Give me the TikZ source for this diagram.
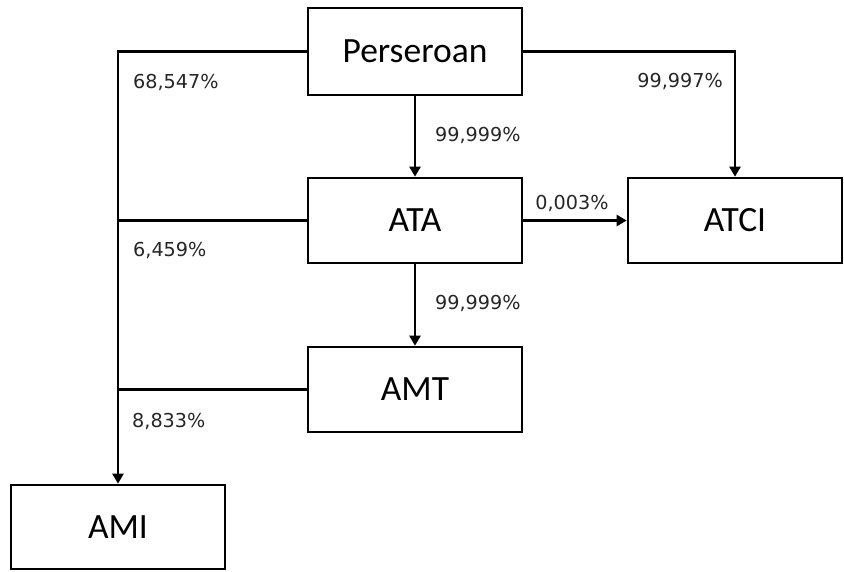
\documentclass[tikz,border=0pt]{standalone}
\usepackage{fontspec}
\setmainfont{Carlito}
\newfontfamily\pctfont{DejaVu Sans}
\usetikzlibrary{arrows.meta}

\begin{document}
\begin{tikzpicture}[x=1pt,y=-1pt,
    company/.style={draw,line width=2.6pt,minimum width=214pt,minimum height=85pt,
      inner sep=0pt,font=\fontsize{35.5}{40}\selectfont},
    share/.style={inner sep=0pt,font=\pctfont\fontsize{19.2}{22}\selectfont,text=black!85},
    link/.style={line width=2.2pt},
    arr/.style={link,-{Triangle[length=10pt,width=11pt]}}]
    \useasboundingbox (0,0) rectangle (844,571);

    \node[company,minimum height=87pt] (pers) at (415,51.5) {Perseroan};
    \node[company] (ata) at (415,220.5) {ATA};
    \node[company] (atci) at (735,220.5) {ATCI};
    \node[company] (amt) at (415,389.5) {AMT};
    \node[company,minimum height=84pt] (ami) at (118,527) {AMI};

    \draw[arr] (pers.west) -| (ami.north);
    \draw[link] (ata.west) -- (ata.west -| ami.north);
    \draw[link] (amt.west) -- (amt.west -| ami.north);
    \draw[arr] (pers.east) -| (atci.north);
    \draw[arr] (pers.south) -- (ata.north);
    \draw[arr] (ata.south) -- (amt.north);
    \draw[arr] (ata.east) -- (atci.west);

    \node[share,anchor=west] (s1) at (133,82) {68,547\%};
    \node[share,anchor=west] (s2) at (133,250) {6,459\%};
    \node[share,anchor=west] (s3) at (132,421) {8,833\%};
    \node[share,anchor=west] (s4) at (435,135) {99,999\%};
    \node[share,anchor=west] (s5) at (435,303) {99,999\%};
    \node[share,anchor=east] (s6) at (723,81) {99,997\%};
    \node[share] (s7) at (572,203) {0,003\%};
  \end{tikzpicture}
\end{document}
